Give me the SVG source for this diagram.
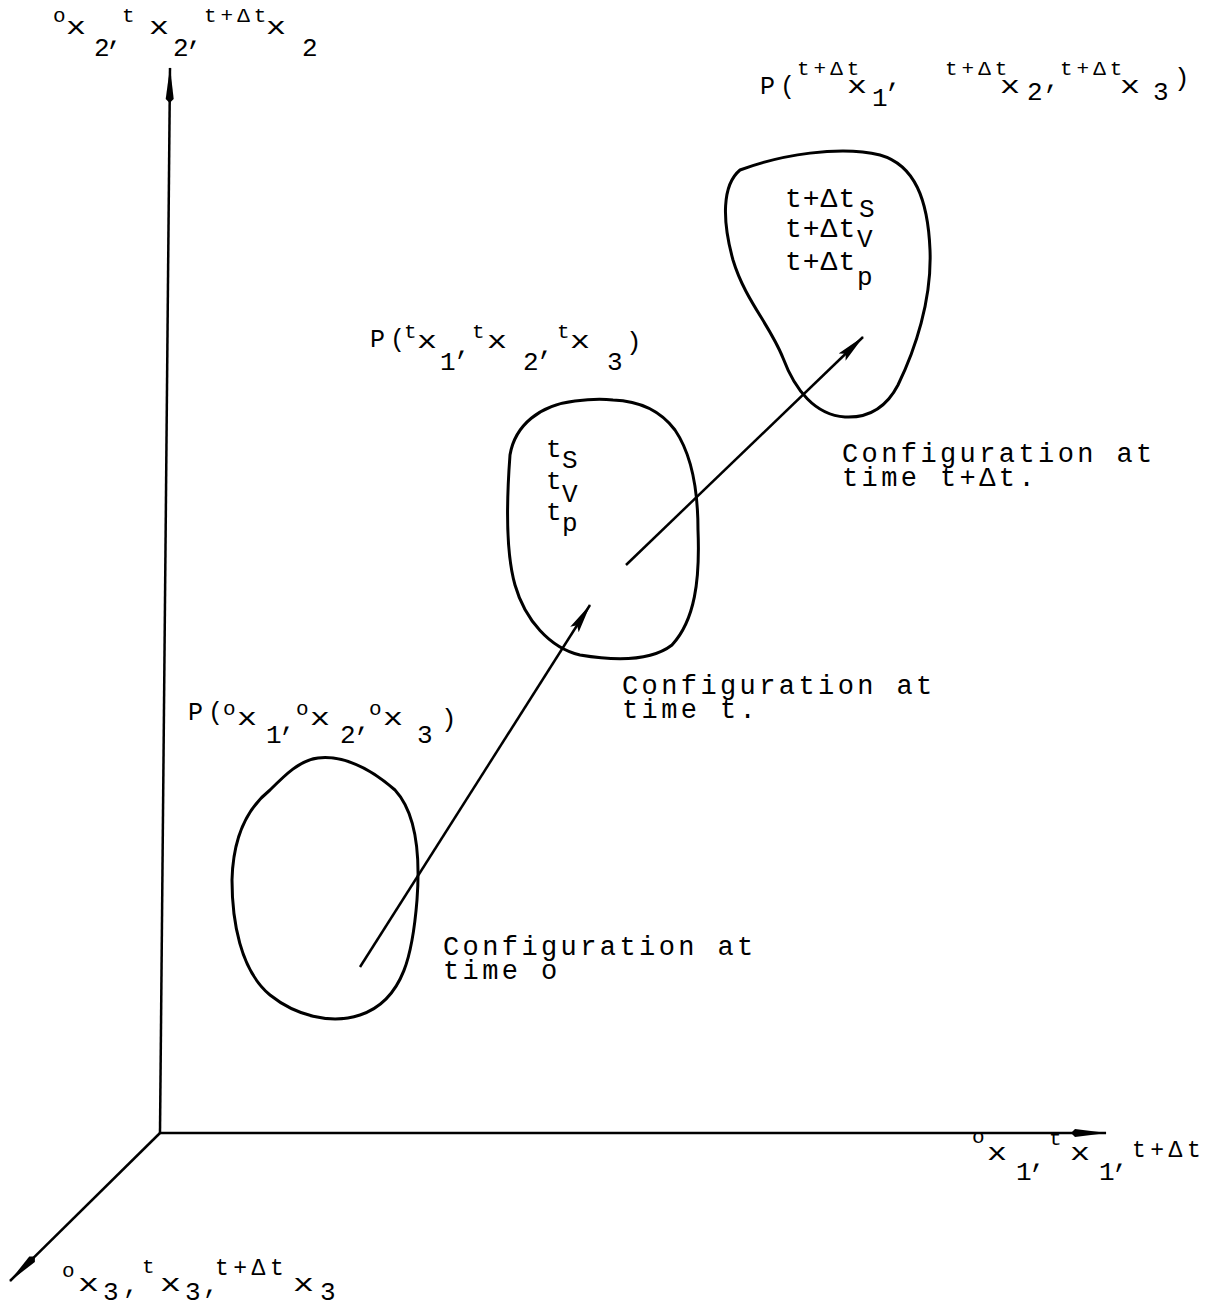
<svg xmlns="http://www.w3.org/2000/svg" width="1232" height="1307" viewBox="0 0 1232 1307">
<style>
text{font-family:"Liberation Mono","DejaVu Sans Mono",monospace;fill:#000}
.cfg{font-size:27px;letter-spacing:3.4px}
.b{font-size:25px;letter-spacing:5px}
.x{font-size:24px}
.c{font-size:26px}
.sp{font-size:21px;letter-spacing:4px}
.sb{font-size:26px}
.in{font-size:28px;letter-spacing:1px}
.blob{fill:none;stroke:#000;stroke-width:3;stroke-linejoin:round}
.ax{fill:none;stroke:#000;stroke-width:2.5}
.ar{fill:none;stroke:#000;stroke-width:2.5}
</style>
<defs>
<marker id="axh" viewBox="0 0 36 10" refX="35" refY="5" markerWidth="36" markerHeight="10" markerUnits="userSpaceOnUse" orient="auto">
<path d="M0,5 L4,1 L36,5 L4,9 Z" fill="#000"/>
</marker>
<marker id="arh" viewBox="0 0 30 12" refX="29" refY="6" markerWidth="30" markerHeight="12" markerUnits="userSpaceOnUse" orient="auto">
<path d="M0,1 L30,6 L0,11 L5,6 Z" fill="#000"/>
</marker>
</defs>

<g id="connectors">
<line id="axis-x2" class="ax" x1="160" y1="1133" x2="170" y2="68" marker-end="url(#axh)"/>
<line id="axis-x1" class="ax" x1="160" y1="1133" x2="1106" y2="1133" marker-end="url(#axh)"/>
<line id="axis-x3" class="ax" x1="160" y1="1133" x2="10" y2="1281" marker-end="url(#axh)"/>
<line id="path-1" class="ar" x1="360" y1="967" x2="590" y2="605" marker-end="url(#arh)"/>
<line id="path-2" class="ar" x1="626" y1="565" x2="863" y2="337" marker-end="url(#arh)"/>
</g>

<g id="blob-time-0">
<path class="blob" d="M318,758 C345,755 372,770 395,790 C418,815 420,860 417,900 C413,950 405,1000 360,1015 C330,1025 295,1015 270,995 C240,970 232,920 232,880 C233,840 245,810 270,790 C285,775 300,760 318,758 Z"/>
</g>

<g id="blob-time-t">
<path class="blob" d="M613,400 C640,401 660,410 675,430 C692,455 698,490 698,530 C700,580 695,620 672,645 C650,662 610,660 580,655 C550,648 525,620 515,585 C505,550 507,495 510,455 C515,425 540,405 575,401 C590,399 605,399 613,400 Z"/>
<text class="c" x="546" y="457">t</text><text class="sb" x="562" y="468">S</text>
<text class="c" x="546" y="489">t</text><text class="sb" x="562" y="502">V</text>
<text class="c" x="546" y="520">t</text><text class="sb" x="562" y="531">p</text>
</g>

<g id="blob-time-t-dt">
<path class="blob" d="M740,170 C780,155 840,145 880,155 C915,165 928,200 930,250 C932,300 915,350 898,385 C885,410 865,418 845,417 C815,415 795,390 783,358 C770,325 745,300 733,260 C722,220 722,185 740,170 Z"/>
<text class="in" x="785" y="207">t+Δt</text><text class="sb" x="859" y="217">S</text>
<text class="in" x="785" y="237">t+Δt</text><text class="sb" x="857" y="247">V</text>
<text class="in" x="785" y="270">t+Δt</text><text class="sb" x="857" y="285">p</text>
</g>

<g id="label-axis-x2">
<text class="sp" x="53" y="22">o</text><text class="x" x="66" y="34" textLength="20" lengthAdjust="spacingAndGlyphs">x</text><text class="sb" x="94" y="56">2</text><text class="c" x="107" y="44">,</text>
<text class="sp" x="122" y="22">t</text><text class="x" x="149" y="34" textLength="20" lengthAdjust="spacingAndGlyphs">x</text><text class="sb" x="173" y="56">2</text><text class="c" x="187" y="44">,</text>
<text class="sp" x="204" y="22">t+Δt</text><text class="x" x="266" y="34" textLength="20" lengthAdjust="spacingAndGlyphs">x</text><text class="sb" x="302" y="56">2</text>
</g>

<g id="label-p-t-dt">
<text class="b" x="760" y="94">P(</text>
<text class="sp" x="797" y="75">t+Δt</text><text class="x" x="847" y="93" textLength="20" lengthAdjust="spacingAndGlyphs">x</text><text class="sb" x="872" y="106">1</text><text class="c" x="886" y="86">,</text>
<text class="sp" x="945" y="75">t+Δt</text><text class="x" x="1000" y="93" textLength="20" lengthAdjust="spacingAndGlyphs">x</text><text class="sb" x="1027" y="100">2</text><text class="c" x="1044" y="88">,</text>
<text class="sp" x="1060" y="75">t+Δt</text><text class="x" x="1120" y="93" textLength="20" lengthAdjust="spacingAndGlyphs">x</text><text class="sb" x="1153" y="100">3</text><text class="c" x="1174" y="86">)</text>
</g>

<g id="label-p-t">
<text class="b" x="370" y="347">P(</text>
<text class="sp" x="404" y="338">t</text><text class="x" x="417" y="348" textLength="20" lengthAdjust="spacingAndGlyphs">x</text><text class="sb" x="440" y="370">1</text><text class="c" x="455" y="354">,</text>
<text class="sp" x="472" y="338">t</text><text class="x" x="487" y="348" textLength="20" lengthAdjust="spacingAndGlyphs">x</text><text class="sb" x="523" y="370">2</text><text class="c" x="538" y="354">,</text>
<text class="sp" x="557" y="338">t</text><text class="x" x="570" y="348" textLength="20" lengthAdjust="spacingAndGlyphs">x</text><text class="sb" x="607" y="370">3</text><text class="c" x="626" y="350">)</text>
</g>

<g id="label-p-0">
<text class="b" x="188" y="720">P(</text>
<text class="sp" x="223" y="715">o</text><text class="x" x="237" y="725" textLength="20" lengthAdjust="spacingAndGlyphs">x</text><text class="sb" x="266" y="743">1</text><text class="c" x="280" y="730">,</text>
<text class="sp" x="296" y="715">o</text><text class="x" x="310" y="725" textLength="20" lengthAdjust="spacingAndGlyphs">x</text><text class="sb" x="340" y="743">2</text><text class="c" x="355" y="730">,</text>
<text class="sp" x="369" y="715">o</text><text class="x" x="383" y="725" textLength="20" lengthAdjust="spacingAndGlyphs">x</text><text class="sb" x="417" y="743">3</text><text class="c" x="441" y="727">)</text>
</g>

<g id="label-axis-x1">
<text class="sp" x="972" y="1143">o</text><text class="x" x="987" y="1160" textLength="20" lengthAdjust="spacingAndGlyphs">x</text><text class="sb" x="1016" y="1180">1</text><text class="c" x="1030" y="1167">,</text>
<text class="sp" x="1049" y="1145">t</text><text class="x" x="1070" y="1160" textLength="20" lengthAdjust="spacingAndGlyphs">x</text><text class="sb" x="1099" y="1180">1</text><text class="c" x="1113" y="1167">,</text>
<text class="sp" x="1132" y="1157" style="font-size:23px;letter-spacing:4.5px">t+Δt</text>
</g>

<g id="label-axis-x3">
<text class="sp" x="62" y="1277">o</text><text class="x" x="78" y="1291" textLength="21" lengthAdjust="spacingAndGlyphs">x</text><text class="sb" x="103" y="1300">3</text><text class="c" x="123" y="1293">,</text>
<text class="sp" x="142" y="1273">t</text><text class="x" x="160" y="1291" textLength="21" lengthAdjust="spacingAndGlyphs">x</text><text class="sb" x="185" y="1300">3</text><text class="c" x="203" y="1293">,</text>
<text class="sp" x="215" y="1275" style="font-size:23px;letter-spacing:4.5px">t+Δt</text><text class="x" x="293" y="1291" textLength="21" lengthAdjust="spacingAndGlyphs">x</text><text class="sb" x="320" y="1300">3</text>
</g>

<g id="caption-time-0">
<text class="cfg" x="443" y="955">Configuration at</text>
<text class="cfg" x="443" y="979">time o</text>
</g>
<g id="caption-time-t">
<text class="cfg" x="622" y="694">Configuration at</text>
<text class="cfg" x="622" y="718">time t.</text>
</g>
<g id="caption-time-t-dt">
<text class="cfg" x="842" y="462">Configuration at</text>
<text class="cfg" x="842" y="486">time t+Δt.</text>
</g>
</svg>
